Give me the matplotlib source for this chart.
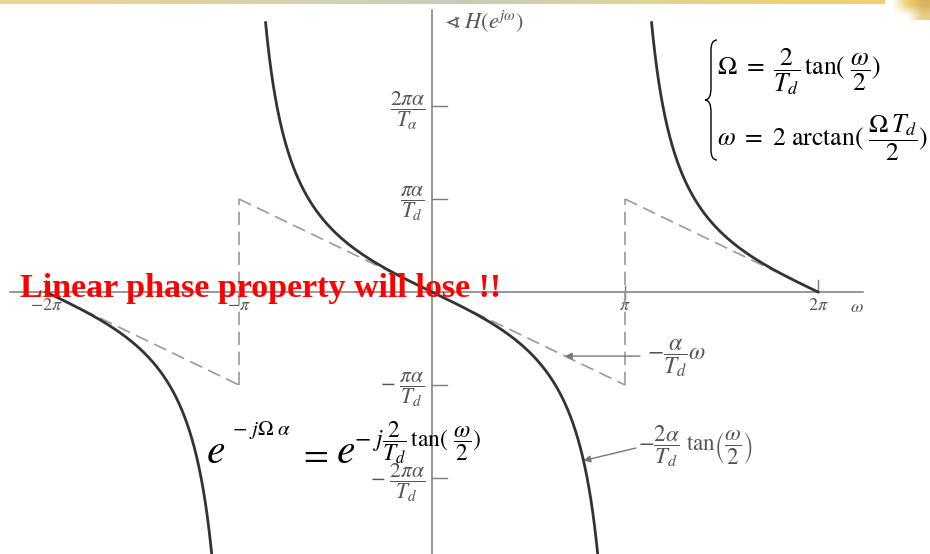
import numpy as np
import matplotlib
matplotlib.use("Agg")
import matplotlib.pyplot as plt
from matplotlib.path import Path
from matplotlib.patches import PathPatch
from matplotlib.colors import to_rgb

plt.rcParams['mathtext.fontset'] = 'stix'
plt.rcParams['font.family'] = ['Liberation Serif', 'DejaVu Serif']

# frequency axis in units of pi, phase axis in units of pi*alpha/T_d
omega_ticks = [-2, -1, 1, 2]
omega_labels = [r'$-2\pi$', r'$-\pi$', r'$\pi$', r'$2\pi$']
phase_ticks = [2, 1, -1, -2]
phase_labels = [r'$\dfrac{2\pi\alpha}{T_\alpha}$', r'$\dfrac{\pi\alpha}{T_d}$',
                r'$-\ \dfrac{\pi\alpha}{T_d}$', r'$-\ \dfrac{2\pi\alpha}{T_d}$']
branches = [(-2.0, -1.0), (-1.0, 1.0), (1.0, 2.0)]   # tan branches between asymptotes
wrap_offsets = [-2, 0, 2]                             # linear phase wrapped by 2*pi
clip_level = 2.9
band_colors = ['#ecd49a', '#e0d2a4', '#d2d2b6', '#c8ccb8', '#dad4a4', '#ead27e', '#f0cf70']

# pixel layout of the drawing
W, H = 930, 554
X0, Y0 = 432, 292
SX, SY = 193.0, 93.0


def px(x):
    return (x - X0) / SX


def py(y):
    return (Y0 - y) / SY


fig = plt.figure(figsize=(W / 100, H / 100), dpi=100)
ax = fig.add_axes([0, 0, 1, 1])
ax.axis('off')

axis_c = '#7a7a7a'
text_c = '#555555'

# axes
ax.plot([px(10), px(863)], [0, 0], color=axis_c, lw=1.1, zorder=2)
ax.plot([0, 0], [py(10), py(H)], color=axis_c, lw=1.1, zorder=2)
for t in omega_ticks:
    if abs(t) == 2:
        ax.plot([t, t], [0, py(280)], color=axis_c, lw=1.0)
    else:
        ax.plot([t, t], [py(286), py(299)], color=axis_c, lw=1.0)
for t in phase_ticks:
    ax.plot([0, px(447)], [t, t], color=axis_c, lw=1.0)

# tick labels
for t, lab in zip(omega_ticks, omega_labels):
    ax.text(t, py(305), lab, fontsize=13, color=text_c, ha='center', va='center')
ax.text(px(857), py(307), r'$\omega$', fontsize=13, color=text_c, ha='center', va='center')
for t, lab in zip(phase_ticks, phase_labels):
    ax.text(px(425), t - 0.05, lab, fontsize=15.5, color=text_c, ha='right', va='center')
ax.text(px(444), py(22), r'$\sphericalangle\ H(e^{j\omega})$', fontsize=16,
        color=text_c, ha='left', va='center')

# linear phase -alpha/T_d * omega, wrapped into [-pi, pi)
alpha_Td = 1 / np.pi
for (a, b), k in zip(branches, wrap_offsets):
    w = np.array([a, b])
    lin = -alpha_Td * np.pi * (w - k)
    ax.plot(w, lin, color='#9a9a9a', lw=1.2, dashes=(8, 4), zorder=3)
for t in [-1, 1]:
    ax.plot([t, t], [-alpha_Td * np.pi, alpha_Td * np.pi], color='#9a9a9a',
            lw=1.2, dashes=(8, 4), zorder=3)

# bilinear phase -2*alpha/T_d * tan(omega/2)
for a, b in branches:
    w = np.linspace(a + 1e-4, b - 1e-4, 800)
    ph = -2 * alpha_Td * np.tan(w * np.pi / 2)
    keep = np.abs(ph) <= clip_level
    ax.plot(w[keep], ph[keep], color='#333333', lw=2.0, zorder=4)

# arrows to the two curves
u1 = px(565)
ax.annotate('', xy=(u1, -alpha_Td * np.pi * u1), xytext=(px(640), -alpha_Td * np.pi * u1),
            arrowprops=dict(arrowstyle='-|>', color='#777777', lw=1.0,
                            mutation_scale=10, shrinkA=0, shrinkB=0))
ax.text(px(647), py(358), r'$-\dfrac{\alpha}{T_d}\omega$', fontsize=17,
        color=text_c, ha='left', va='center')
u2 = 0.785
ax.annotate('', xy=(u2, -2 * alpha_Td * np.tan(u2 * np.pi / 2)), xytext=(px(636), py(448)),
            arrowprops=dict(arrowstyle='-|>', color='#777777', lw=1.0,
                            mutation_scale=10, shrinkA=0, shrinkB=0))
ax.text(px(638), py(446), r'$-\dfrac{2\alpha}{T_d}\ \mathrm{tan}\left(\dfrac{\omega}{2}\right)$',
        fontsize=16.5, color=text_c, ha='left', va='center')

# mapping equations, top right
ax.text(px(717), py(72), r'$\Omega\ =\ \dfrac{2}{T_d}\,\mathrm{tan}(\ \dfrac{\omega}{2})$',
        fontsize=18.5, color='black', ha='left', va='center')
ax.text(px(717), py(138), r'$\omega\ =\ 2\ \mathrm{arctan}(\ \dfrac{\Omega\,T_d}{2})$',
        fontsize=18.5, color='black', ha='left', va='center')
btop, bmid, bbot = 40, 100, 160
verts = [(717, btop), (711, btop), (711, btop + 10), (711, bmid - 12),
         (711, bmid), (705, bmid), (711, bmid), (711, bmid + 12),
         (711, bbot - 10), (711, bbot), (717, bbot)]
codes = [Path.MOVETO, Path.CURVE3, Path.CURVE3, Path.LINETO,
         Path.CURVE3, Path.CURVE3, Path.CURVE3, Path.CURVE3,
         Path.LINETO, Path.CURVE3, Path.CURVE3]
brace = Path([(px(x), py(y)) for x, y in verts], codes)
ax.add_patch(PathPatch(brace, facecolor='none', edgecolor='black', lw=1.0))

# exponent identity, bottom left
ax.text(px(206), py(463), r'$e$', fontsize=30, color='black', ha='left', va='baseline')
ax.text(px(232), py(430), r'$-\ j\Omega\ \alpha$', fontsize=15, color='black',
        ha='left', va='center')
ax.text(px(298), py(456), r'$=$', fontsize=26, color='black', ha='left', va='center')
ax.text(px(336), py(463), r'$e$', fontsize=30, color='black', ha='left', va='baseline')
ax.text(px(354), py(443), r'$-\ j\dfrac{2}{T_d}\,\mathrm{tan}(\ \dfrac{\omega}{2})$',
        fontsize=17, color='black', ha='left', va='center')

# headline
ax.text(px(20), py(297), 'Linear phase property will lose !!', fontsize=24.5,
        fontweight='bold', color='#ff0000', ha='left', va='baseline', zorder=6)

# template strip along the top edge
strip = np.array([[to_rgb(c) for c in band_colors]])
ax.imshow(strip, extent=(px(0), px(W), py(4), py(0)), aspect='auto',
          interpolation='bilinear', zorder=1)
corner = np.array([[to_rgb('#ffffff'), to_rgb('#f0d070'), to_rgb('#d8b460')],
                   [to_rgb('#ffffff'), to_rgb('#ffffff'), to_rgb('#e8cc88')]])
ax.imshow(corner, extent=(px(885), px(W), py(20), py(0)), aspect='auto',
          interpolation='bilinear', zorder=1)
ax.set_xlim(px(0), px(W))
ax.set_ylim(py(H), py(0))

fig.savefig('out.png', dpi=100)
